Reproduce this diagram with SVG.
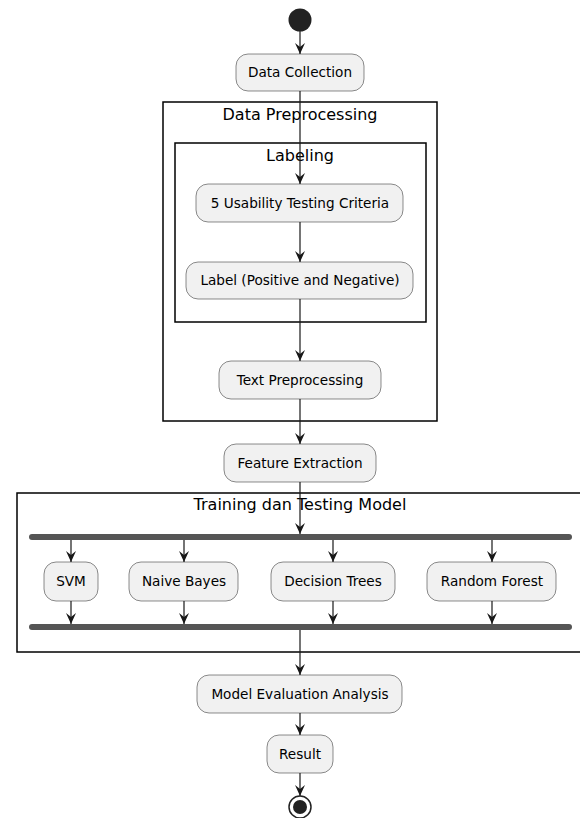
<svg xmlns="http://www.w3.org/2000/svg" width="580" height="818" viewBox="0 0 580 818">
<style>
.box{fill:#F1F1F1;stroke:#181818;stroke-width:0.5}
.t{font-family:"DejaVu Sans",Verdana,sans-serif;font-size:13.6px;fill:#000;text-anchor:middle}
.ft{font-family:"DejaVu Sans",Verdana,sans-serif;font-size:16px;fill:#000;text-anchor:middle}
.frame{fill:none;stroke:#000;stroke-width:1.5}
.ln{stroke:#181818;stroke-width:1.2;fill:none;marker-end:url(#ah)}
.bar{fill:#555555;stroke:none}
</style>
<defs>
<marker id="ah" viewBox="0 0 11 10" refX="11" refY="5" markerWidth="11" markerHeight="10" markerUnits="userSpaceOnUse" orient="auto">
<path d="M0,0 L11,5 L0,10 L4,5 Z" fill="#181818"/>
</marker>
</defs>
<rect width="580" height="818" fill="#fff"/>
<g id="frame-preprocessing"><rect class="frame" x="163" y="102" width="274" height="319"/><text class="ft" x="300" y="120">Data Preprocessing</text></g>
<g id="frame-labeling"><rect class="frame" x="175" y="143" width="251" height="179"/><text class="ft" x="300" y="161">Labeling</text></g>
<g id="frame-training"><rect class="frame" x="17" y="493" width="570" height="159"/><text class="ft" x="300" y="510">Training dan Testing Model</text></g>
<g id="connectors">
<line class="ln" x1="300" y1="31" x2="300" y2="54"/>
<line class="ln" x1="300" y1="91" x2="300" y2="184"/>
<line class="ln" x1="300" y1="222" x2="300" y2="262"/>
<line class="ln" x1="300" y1="299" x2="300" y2="361"/>
<line class="ln" x1="300" y1="399" x2="300" y2="444"/>
<line class="ln" x1="300" y1="482" x2="300" y2="534"/>
<line class="ln" x1="71" y1="540" x2="71" y2="562"/>
<line class="ln" x1="184" y1="540" x2="184" y2="562"/>
<line class="ln" x1="333" y1="540" x2="333" y2="562"/>
<line class="ln" x1="492" y1="540" x2="492" y2="562"/>
<line class="ln" x1="71" y1="601" x2="71" y2="624"/>
<line class="ln" x1="184" y1="601" x2="184" y2="624"/>
<line class="ln" x1="333" y1="601" x2="333" y2="624"/>
<line class="ln" x1="492" y1="601" x2="492" y2="624"/>
<line class="ln" x1="300" y1="630" x2="300" y2="675"/>
<line class="ln" x1="300" y1="713" x2="300" y2="735"/>
<line class="ln" x1="300" y1="773" x2="300" y2="796"/>
</g>
<g id="start"><circle cx="300" cy="20" r="11.5" fill="#222"/></g>
<g id="data-collection"><rect class="box" x="236" y="54" width="128" height="37" rx="12"/><text class="t" x="300" y="77">Data Collection</text></g>
<g id="usability"><rect class="box" x="196" y="184" width="207" height="38" rx="12"/><text class="t" x="300" y="208">5 Usability Testing Criteria</text></g>
<g id="label"><rect class="box" x="186" y="262" width="227" height="37" rx="12"/><text class="t" x="300" y="285">Label (Positive and Negative)</text></g>
<g id="text-preprocessing"><rect class="box" x="219" y="361" width="162" height="38" rx="12"/><text class="t" x="300" y="385">Text Preprocessing</text></g>
<g id="feature-extraction"><rect class="box" x="224" y="444" width="152" height="38" rx="12"/><text class="t" x="300" y="468">Feature Extraction</text></g>
<g id="fork"><rect class="bar" x="29" y="534" width="543" height="6" rx="3"/></g>
<g id="svm"><rect class="box" x="44" y="562" width="54" height="39" rx="12"/><text class="t" x="71" y="586">SVM</text></g>
<g id="naive-bayes"><rect class="box" x="129" y="562" width="109" height="39" rx="12"/><text class="t" x="184" y="586">Naive Bayes</text></g>
<g id="decision-trees"><rect class="box" x="271" y="562" width="124" height="39" rx="12"/><text class="t" x="333" y="586">Decision Trees</text></g>
<g id="random-forest"><rect class="box" x="427" y="562" width="129" height="39" rx="12"/><text class="t" x="492" y="586">Random Forest</text></g>
<g id="join"><rect class="bar" x="29" y="624" width="543" height="6" rx="3"/></g>
<g id="model-evaluation"><rect class="box" x="197" y="675" width="205" height="38" rx="12"/><text class="t" x="300" y="699">Model Evaluation Analysis</text></g>
<g id="result"><rect class="box" x="267" y="735" width="66" height="38" rx="12"/><text class="t" x="300" y="759">Result</text></g>
<g id="end"><circle cx="300" cy="807" r="11" fill="none" stroke="#222" stroke-width="1.5"/><circle cx="300" cy="807" r="7" fill="#222"/></g>
</svg>
